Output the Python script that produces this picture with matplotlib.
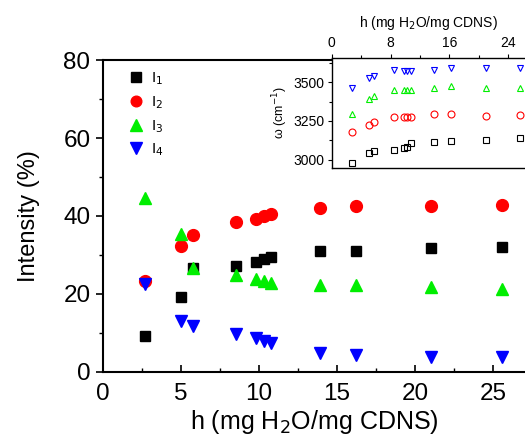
import matplotlib
matplotlib.use("Agg")
import matplotlib.pyplot as plt
from matplotlib.ticker import MultipleLocator

plt.rcParams["font.family"] = ["Liberation Sans", "DejaVu Sans"]

# hydration level h (mg H2O / mg CDNS)
h = [2.7, 5.0, 5.8, 8.5, 9.8, 10.3, 10.8, 13.9, 16.2, 21.0, 25.6]

# relative intensities (%)
I1 = [9.3, 19.2, 26.7, 27.3, 28.2, 28.9, 29.4, 30.9, 30.9, 31.8, 32.0]
I2 = [23.3, 32.2, 35.2, 38.4, 39.2, 40.0, 40.6, 42.0, 42.5, 42.5, 42.9]
I3 = [44.6, 35.5, 26.6, 24.9, 23.9, 23.3, 22.9, 22.3, 22.3, 21.7, 21.3]
I4 = [22.6, 13.2, 11.8, 9.7, 8.8, 7.9, 7.4, 4.8, 4.4, 3.9, 3.9]

# peak positions omega (cm^-1), inset
w1 = [2980, 3043, 3054, 3065, 3078, 3083, 3104, 3113, 3117, 3126, 3141]
w2 = [3180, 3224, 3246, 3274, 3274, 3278, 3278, 3293, 3293, 3280, 3287]
w3 = [3298, 3391, 3415, 3450, 3452, 3454, 3450, 3463, 3474, 3463, 3461]
w4 = [3463, 3526, 3543, 3578, 3576, 3576, 3576, 3578, 3593, 3593, 3591]

labels = ["I$_1$", "I$_2$", "I$_3$", "I$_4$"]
colors = ["black", "#ff0000", "#00ee00", "#0000ff"]
markers = ["s", "o", "^", "v"]
msizes = [7.5, 8.5, 9.0, 9.0]

fig = plt.figure(figsize=(5.25, 4.38), dpi=100)
ax = fig.add_axes([0.196, 0.1507, 0.804, 0.7123])

for ys, c, m, ms, lab in zip([I1, I2, I3, I4], colors, markers, msizes, labels):
    ax.plot(h, ys, linestyle="none", marker=m, color=c, markersize=ms, label=lab)

ax.set_xlim(0, 27.05)
ax.set_ylim(0, 80)
ax.xaxis.set_major_locator(MultipleLocator(5))
ax.xaxis.set_minor_locator(MultipleLocator(2.5))
ax.yaxis.set_major_locator(MultipleLocator(20))
ax.yaxis.set_minor_locator(MultipleLocator(10))
ax.tick_params(axis="x", which="both", direction="in", labelsize=17.5, pad=8)
ax.tick_params(axis="y", which="both", direction="out", labelsize=17.5, pad=4)
ax.tick_params(which="major", length=5, width=1.2)
ax.tick_params(which="minor", length=3, width=1.0)
for s in ax.spines.values():
    s.set_linewidth(1.5)
ax.spines["right"].set_visible(False)

ax.set_xlabel("h (mg H$_2$O/mg CDNS)", fontsize=18, labelpad=2)
ax.set_ylabel("Intensity (%)", fontsize=17, labelpad=17)

ax.legend(loc="upper left", frameon=False, fontsize=11, handletextpad=0.5,
          labelspacing=0.45, borderaxespad=0.0, handlelength=1.0,
          bbox_to_anchor=(0.045, 0.985), markerscale=0.9)

# inset: peak positions
axi = fig.add_axes([0.632, 0.6164, 0.368, 0.2511])
for ys, c, m in zip([w1, w2, w3, w4], colors, markers):
    axi.plot(h, ys, linestyle="none", marker=m, markerfacecolor="none",
             markeredgecolor=c, markersize=5, markeredgewidth=0.8)

axi.set_xlim(0, 26.3)
axi.set_ylim(2945, 3658)
axi.xaxis.set_major_locator(MultipleLocator(8))
axi.xaxis.set_minor_locator(MultipleLocator(4))
axi.yaxis.set_major_locator(MultipleLocator(250))
axi.yaxis.set_minor_locator(MultipleLocator(125))
axi.xaxis.tick_top()
axi.xaxis.set_label_position("top")
axi.tick_params(axis="both", which="both", direction="out", labelsize=10, pad=2)
axi.tick_params(axis="x", pad=3)
axi.tick_params(which="major", length=3, width=0.8)
axi.tick_params(which="minor", length=2, width=0.8)
for s in axi.spines.values():
    s.set_linewidth(1.0)
axi.spines["right"].set_visible(False)
axi.set_xlabel("h (mg H$_2$O/mg CDNS)", fontsize=10, labelpad=6)
axi.set_ylabel("ω (cm$^{-1}$)", fontsize=9, labelpad=3)

fig.savefig("out.png", dpi=100)
